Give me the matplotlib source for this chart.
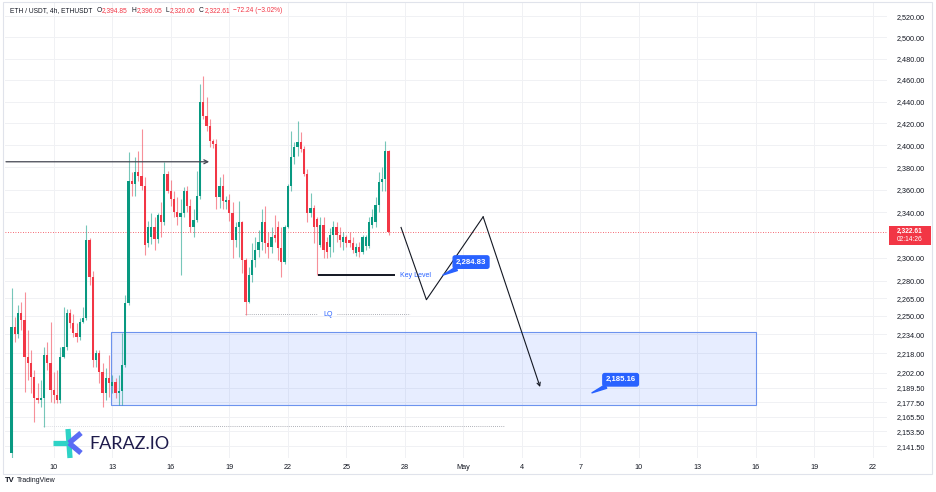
import matplotlib
matplotlib.use('Agg')
import matplotlib.pyplot as plt
from matplotlib.patches import Rectangle
from matplotlib.lines import Line2D
from matplotlib.ticker import FixedLocator, FixedFormatter, NullLocator
import numpy as np
import pandas as pd

plt.rcParams['font.family'] = ['Liberation Sans', 'DejaVu Sans']

# ETH/USDT 4h candles
first_candle = '2024-04-07 20:00'
opens = [2136, 2240, 2234, 2252.5, 2246.5, 2215, 2210, 2198, 2181, 2179.3,
         2181, 2217, 2210, 2187.6, 2183.5, 2179.3, 2215, 2223.6, 2252.5, 2244,
         2235.5, 2232, 2245, 2248, 2315, 2283.5, 2212.7, 2218.6, 2202.6, 2185,
         2197.7, 2191, 2194, 2185, 2186.5, 2208.5, 2261, 2367.3, 2364.6, 2376,
         2372, 2362.8, 2313, 2318, 2327, 2316, 2337.8, 2330.8, 2373.6, 2358.3,
         2351.2, 2340.5, 2336, 2339.6, 2358.3, 2345, 2327.2, 2333.4, 2354, 2440,
         2426.4, 2417.2, 2403.5, 2400.7, 2353, 2362.8, 2349, 2350.5, 2339.6, 2315.8,
         2327.2, 2330.8, 2298.3, 2262, 2285.2, 2298.3, 2307, 2314, 2330.8, 2313,
         2309.6, 2319.5, 2327, 2308.7, 2296.5, 2327.2, 2362.8, 2389, 2398, 2402.6,
         2396.2, 2373.6, 2339.6, 2344, 2334, 2311.4, 2329, 2314, 2309.6, 2320.2,
         2327.2, 2320.2, 2314, 2317.6, 2315.8, 2313, 2304, 2309.6, 2305.3, 2310,
         2310, 2329, 2330.8, 2346.7, 2366.4, 2369.1, 2394.85]
highs = [2274, 2249, 2259, 2262, 2270, 2238, 2221, 2204, 2193.5, 2196,
         2223.6, 2228, 2245, 2202.6, 2204, 2223.6, 2257, 2256, 2256, 2251,
         2244, 2248, 2257, 2329, 2316.7, 2288, 2221, 2221, 2210, 2206,
         2217, 2200, 2197.7, 2200, 2235.5, 2268, 2393.5, 2376, 2389, 2394.4,
         2414.5, 2371, 2331.7, 2339, 2336, 2339.6, 2348.5, 2384.4, 2376.3, 2369,
         2358.3, 2353, 2351.2, 2361.9, 2362.8, 2351.2, 2342.3, 2376.3, 2456, 2463.6,
         2444, 2423.7, 2405.3, 2405.3, 2370.9, 2373.6, 2354, 2355.7, 2348.5, 2330.8,
         2349.4, 2332, 2300, 2292, 2313, 2317.6, 2324.6, 2342.3, 2345, 2322.8,
         2327.2, 2337.8, 2331.7, 2327.2, 2329, 2364.6, 2412.7, 2402.6, 2421.8, 2411.8,
         2398.9, 2378.1, 2357.4, 2346, 2336, 2336, 2336, 2318.4, 2326.3, 2331.7,
         2330.8, 2327.2, 2322, 2320.2, 2322, 2318.4, 2313, 2314, 2320.2, 2320.2,
         2336, 2342.3, 2353, 2375.4, 2379.9, 2403.5, 2396.05]
lows = [2120, 2228, 2231, 2238, 2186, 2196, 2185, 2161, 2177, 2173.5,
        2157, 2204, 2177.7, 2177, 2177, 2177, 2214, 2221, 2239.7, 2232,
        2228, 2229.5, 2244, 2246.5, 2276.5, 2206.8, 2206.8, 2193.5, 2173.5, 2179.3,
        2181.8, 2185, 2181, 2175, 2175, 2206.8, 2259.4, 2354, 2354, 2367.3,
        2360, 2302.6, 2309.6, 2312, 2307, 2313, 2318.4, 2329, 2357.4, 2345,
        2336, 2329, 2285.2, 2336, 2340.5, 2322, 2317.6, 2330.8, 2351.2, 2423.7,
        2412.7, 2398.8, 2397.9, 2342.3, 2344, 2342.3, 2342.3, 2331.7, 2300, 2309.6,
        2300.9, 2287, 2250.8, 2261, 2279, 2292, 2300.9, 2307, 2304.4, 2300,
        2304.4, 2314, 2298.3, 2283.5, 2294, 2326.3, 2358.3, 2382.6, 2389.9, 2393.5,
        2371.8, 2330.8, 2336, 2313, 2284.83, 2309.6, 2300, 2300, 2300.9, 2305.3,
        2314, 2309.6, 2307, 2309.6, 2309.6, 2304.4, 2301, 2300.9, 2303, 2307,
        2308.7, 2326.3, 2327.2, 2340.5, 2358.3, 2358.3, 2320.0]
closes = [2240, 2234, 2252.5, 2246.5, 2215, 2210, 2198, 2181, 2179.3, 2181,
          2217, 2210, 2187.6, 2183.5, 2179.3, 2215, 2223.6, 2252.5, 2244, 2235.5,
          2232, 2245, 2248, 2315, 2283.5, 2212.7, 2218.6, 2202.6, 2185, 2197.7,
          2193.5, 2194, 2185, 2186.5, 2208.5, 2261, 2367.3, 2364.6, 2376, 2372,
          2362.8, 2311.4, 2327.2, 2327, 2316, 2337.8, 2330.8, 2373.6, 2358.3, 2351.2,
          2340.5, 2336, 2339.6, 2358.3, 2345, 2327.2, 2333.4, 2354, 2440, 2426.4,
          2417.2, 2403.5, 2400.7, 2353, 2362.8, 2349.4, 2350.5, 2339.6, 2315.8, 2327.2,
          2330.8, 2298.3, 2262, 2285.2, 2298.3, 2307, 2314, 2330.8, 2313, 2309.6,
          2317.6, 2317, 2308.7, 2296.5, 2327.2, 2362.8, 2389, 2398, 2402.6, 2396.2,
          2373.6, 2339.6, 2344, 2327.2, 2327.2, 2329, 2307, 2305.3, 2320.2, 2327.2,
          2320.2, 2315.8, 2317.6, 2313, 2313, 2307, 2309.6, 2305.3, 2318.4, 2318,
          2330.8, 2336, 2346.7, 2366.4, 2369.1, 2394.4, 2322.61]

last_price = 2322.61
price_ticks = [2520, 2500, 2480, 2460, 2440, 2420, 2400, 2380, 2360, 2340,
               2300, 2280, 2265, 2250, 2234, 2218, 2202, 2189.5, 2177.5,
               2165.5, 2153.5, 2141.5]
day_ticks = [10, 13, 16, 19, 22, 25, 28, 31, 34, 37, 40, 43, 46, 49, 52]
day_labels = ['10', '13', '16', '19', '22', '25', '28', 'May', '4', '7',
              '10', '13', '16', '19', '22']

# drawings on the chart (x in days of April, y in price)
key_level = 2284.83
lq_level = 2251
target = 2185.16
zone = (12.94, 46.02, 2175, 2236)
path_days = [27.81, 29.11, 32.02, 34.94]
path_prices = [2326.4, 2263.6, 2335.8, 2190]

GREEN = '#089981'
RED = '#f23645'
BLUE = '#2962ff'
DARK = '#131722'

W, H = 936, 492
fig = plt.figure(figsize=(W / 100, H / 100), dpi=100)
fig.patch.set_facecolor('white')


def fx(px):
    return px / W


def fy(py):
    return 1 - py / H


ax = fig.add_axes([fx(5), fy(458), fx(882), 455 / H])
ax.set_yscale('log')
ax.set_xlim(7.50, 52.73)
ax.set_ylim(2131.9, 2532.8)

times = pd.date_range(first_candle, periods=len(opens), freq='4h')
x = ((times - pd.Timestamp('2024-03-31')) / pd.Timedelta('1D')).values
o = np.array(opens)
h = np.array(highs)
l = np.array(lows)
c = np.array(closes)
col = np.where(c >= o, GREEN, RED)

ax.vlines(x, l, h, colors=col, lw=0.8, alpha=0.55, zorder=3)
ax.bar(x, np.maximum(np.abs(c - o), 0.5), bottom=np.minimum(o, c), width=0.11,
       color=col, lw=0, zorder=4)

# axes styling
ax.yaxis.tick_right()
ax.yaxis.set_major_locator(FixedLocator(price_ticks))
ax.yaxis.set_major_formatter(FixedFormatter([f'{v:,.2f}' for v in price_ticks]))
ax.yaxis.set_minor_locator(NullLocator())
ax.xaxis.set_major_locator(FixedLocator(day_ticks))
ax.xaxis.set_major_formatter(FixedFormatter(day_labels))
ax.tick_params(axis='y', length=0, labelsize=5.2, colors=DARK, pad=7)
ax.tick_params(axis='x', length=0, labelsize=5.2, colors=DARK, pad=4)
ax.grid(True, color='#f0f1f4', lw=0.7, zorder=0)
ax.set_axisbelow(True)
for s in ax.spines.values():
    s.set_visible(False)

# demand zone
ax.add_patch(Rectangle((zone[0], zone[2]), zone[1] - zone[0], zone[3] - zone[2],
                       fc=(0.16, 0.38, 1.0, 0.11), ec='#6d93ee', lw=0.8, zorder=1))

# current price line
ax.axhline(last_price, color=RED, lw=0.6, ls=(0, (1, 2)), zorder=2)

# old high arrow
ax.annotate('', xy=(17.97, 2385), xytext=(7.55, 2385),
            arrowprops=dict(arrowstyle='->', color='#434651', lw=0.9,
                            shrinkA=0, shrinkB=0, mutation_scale=7), zorder=5)

# key level
ax.hlines(key_level, 23.56, 27.5, color=DARK, lw=1.4, zorder=5)
ax.text(27.75, key_level, 'Key Level', color=BLUE, fontsize=5, va='center', ha='left')

# LQ
ax.hlines(lq_level, 19.81, 23.5, color='#9598a1', lw=0.6, ls=(0, (1, 1.5)))
ax.hlines(lq_level, 24.55, 28.27, color='#9598a1', lw=0.6, ls=(0, (1, 1.5)))
ax.text(24.05, lq_level, 'LQ', color=BLUE, fontsize=5, va='center', ha='center')

# lower liquidity line
ax.hlines(2158, 9.44, 16.48, color='#d1d4dc', lw=0.6, ls=(0, (1, 1.5)))
ax.hlines(2158, 16.48, 33.13, color='#9598a1', lw=0.6, ls=(0, (1, 1.5)))

# projected path
ax.plot(path_days[:3], path_prices[:3], color=DARK, lw=0.8, zorder=5)
ax.annotate('', xy=(path_days[3], path_prices[3]), xytext=(path_days[2], path_prices[2]),
            arrowprops=dict(arrowstyle='->', color=DARK, lw=0.8,
                            shrinkA=0, shrinkB=0, mutation_scale=6), zorder=5)

# price labels
label_box = dict(boxstyle='round,pad=0.35,rounding_size=0.25', fc=BLUE, ec=BLUE)
wedge = dict(arrowstyle='wedge,tail_width=0.5', fc=BLUE, ec=BLUE, shrinkA=0, shrinkB=0)
ax.annotate(f'{key_level:,.2f}', xy=(29.96, key_level), xytext=(31.40, 2296.1),
            ha='center', va='center', fontsize=5.6, fontweight='bold', color='white',
            bbox=label_box, arrowprops=wedge, zorder=6)
ax.annotate(f'{target:,.2f}', xy=(37.6, target), xytext=(39.07, 2196),
            ha='center', va='center', fontsize=5.6, fontweight='bold', color='white',
            bbox=label_box, arrowprops=wedge, zorder=6)

# last price tag on the price scale
fig.add_artist(Rectangle((fx(889), fy(245)), fx(42), 19 / H, transform=fig.transFigure,
                         fc=RED, ec=RED, lw=0))
fig.text(fx(910), fy(231.5), f'{last_price:,.2f}', color='white', fontsize=4.8,
         ha='center', va='center', fontweight='bold')
fig.text(fx(910), fy(239.5), '02:14:26', color='white', fontsize=4.8,
         ha='center', va='center')

# header, laid out left to right
header = [('ETH / USDT, 4h, ETHUSDT', DARK, 4), ('O', DARK, 0.5), ('2,394.85', RED, 3.5),
          ('H', DARK, 0.5), ('2,396.05', RED, 3.5), ('L', DARK, 0.5),
          ('2,320.00', RED, 3.5), ('C', DARK, 0.5), ('2,322.61', RED, 3.5),
          ('\u221272.24 (\u22123.02%)', RED, 0)]
renderer = fig.canvas.get_renderer()
cur = 10
for txt, cl, gap in header:
    t = fig.text(fx(cur), fy(11), txt, color=cl, fontsize=4.8, va='center', ha='left')
    cur += t.get_window_extent(renderer).width + gap

# outer frame
fig.add_artist(Rectangle((fx(3), fy(474)), fx(929), 472 / H, transform=fig.transFigure,
                         fill=False, ec='#e0e3eb', lw=0.8))

# FARAZ.IO watermark
for (x0, y0, x1, y1, cl) in [(53, 443, 69, 443, '#2ed3c6'), (68, 429, 70, 458, '#2ed3c6'),
                             (69, 443, 81, 433, '#5b6cf5'), (69, 443, 81, 453, '#5b6cf5')]:
    fig.add_artist(Line2D([fx(x0), fx(x1)], [fy(y0), fy(y1)], transform=fig.transFigure,
                          color=cl, lw=3.8, solid_capstyle='butt'))
fig.text(fx(89), fy(444), 'FARAZ.IO', color='#1e1b4b', fontsize=13, family='Lato',
         va='center', ha='left')

# TradingView footer
fig.text(fx(5), fy(481), 'TV', color=DARK, fontsize=5.5, fontweight='bold', va='center')
fig.text(fx(17), fy(481), 'TradingView', color=DARK, fontsize=5, va='center')

fig.savefig('out.png', dpi=100, facecolor='white')
